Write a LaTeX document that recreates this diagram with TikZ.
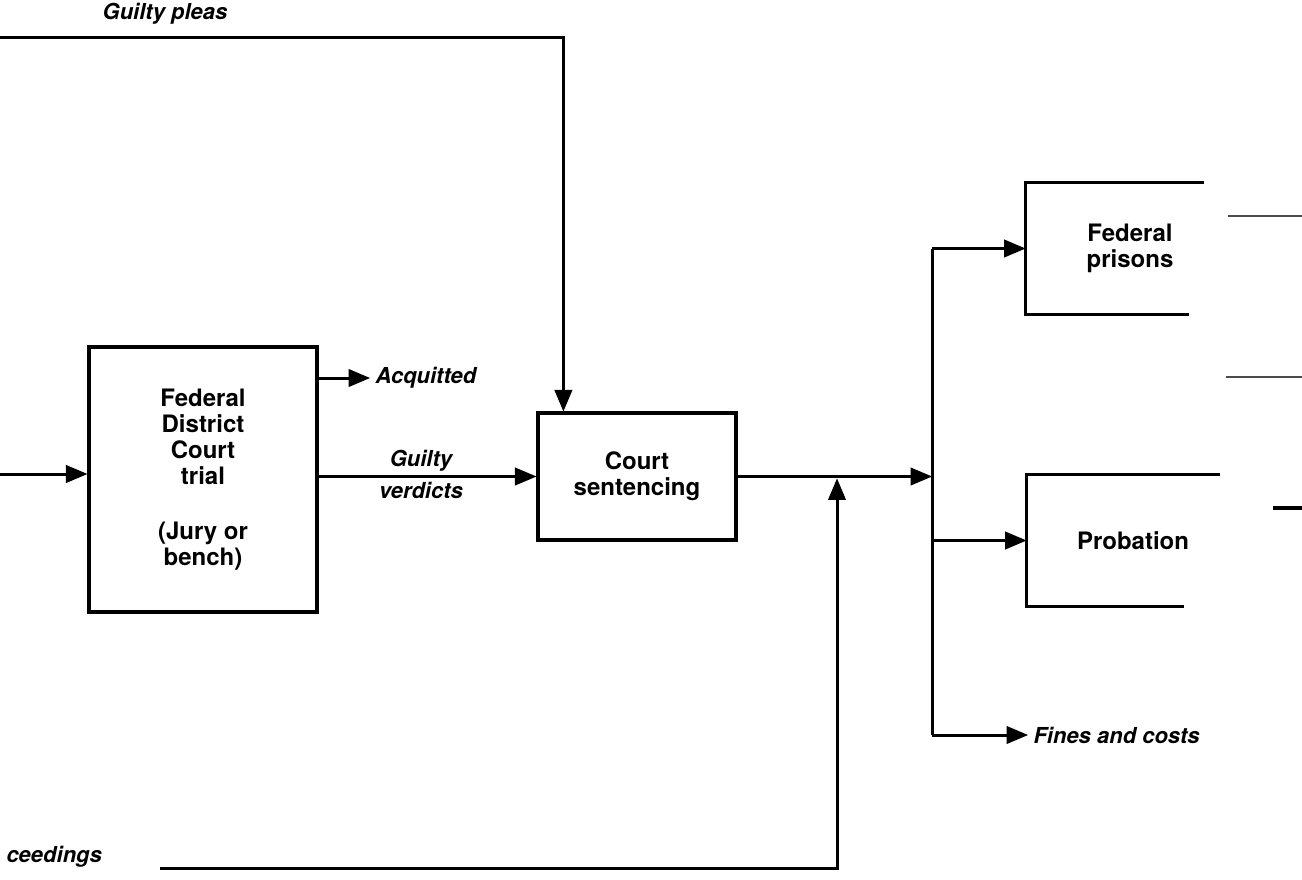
\documentclass[tikz,border=0pt]{standalone}
\usepackage{fontspec}
\setmainfont{TeX Gyre Heros}
\usetikzlibrary{arrows}

\begin{document}
\begin{tikzpicture}[x=0.5pt,y=-0.5pt,line width=1.5pt,
every node/.style={anchor=center,
inner sep=2pt,
font=\bfseries\fontsize{12}{13}\selectfont
},
box/.style={%
draw,
line width=1.6pt,
align=center
},
open/.style={%
align=center
},
lbl/.style={%
font=\bfseries\itshape\fontsize{11}{13}\selectfont
},
arr/.style={-triangle 45},
stub/.style={line width=0.6pt,black!70}]
\useasboundingbox(0,0)rectangle(1302,879);
\node[box,minimum width=114pt,minimum height=132.5pt]at(203,479.5)(trial){Federal\\District\\Court\\trial\\[14.5pt](Jury or\\bench)};
\node[box,minimum width=99pt,minimum height=63.5pt]at(637,476.5)(sentence){Court\\sentencing};
\node[open,minimum width=103pt,minimum height=64.5pt]at(1130,248.5)(prisons){Federal\\prisons};
\node[open,minimum width=105pt,minimum height=64.5pt]at(1133,540.5)(probation){Probation};
\draw[line width=1.6pt](prisons.north west)++(178,0)--(prisons.north west)--(prisons.south west)--++(163,0);
\draw[line width=1.6pt](probation.north west)++(193,0)--(probation.north west)--(probation.south west)--++(157,0);
\node[lbl]at(165,14)(pleas){Guilty pleas};
\node[lbl,anchor=west]at(370,378)(acq){Acquitted};
\node[lbl,anchor=west]at(1028,735)(fines){Fines and costs};
\node[lbl,anchor=west]at(1,857)(procs){ceedings};
\coordinate(in)at(0,474);
\coordinate(gp)at(0,37);
\coordinate(split)at(932,476.5);
\coordinate(fb)at(160,868);
\coordinate(merge)at(837,476.5);
\draw[arr](in)--(in-|trial.west);
\draw[arr](acq.west-|trial.east)--(acq.west);
\draw[arr](trial.east|-sentence.west)--(sentence.west)
node[lbl,pos=0.47,above](guilty){Guilty}
node[lbl,pos=0.47,below](verdicts){verdicts};
\draw[arr](gp)-|([xshift=13.5pt]sentence.north west);
\draw[arr](sentence.east)--(split);
\draw(split|-prisons.west)--(split|-fines.west);
\draw[arr](split|-prisons.west)--(prisons.west);
\draw[arr](split|-probation.west)--(probation.west);
\draw[arr](split|-fines.west)--(fines.west);
\draw[arr,shorten >=1pt](fb)-|(merge);
\coordinate(s1a)at(1228,216);\coordinate(s1b)at(1302,216);
\coordinate(s2a)at(1226,377);\coordinate(s2b)at(1302,377);
\coordinate(s3a)at(1273,508);\coordinate(s3b)at(1302,508);
\draw[stub](s1a)--(s1b);
\draw[stub](s2a)--(s2b);
\draw[line width=1.6pt](s3a)--(s3b);
%\draw[stub](0,0)--(0,879);
\end{tikzpicture}
\end{document}
